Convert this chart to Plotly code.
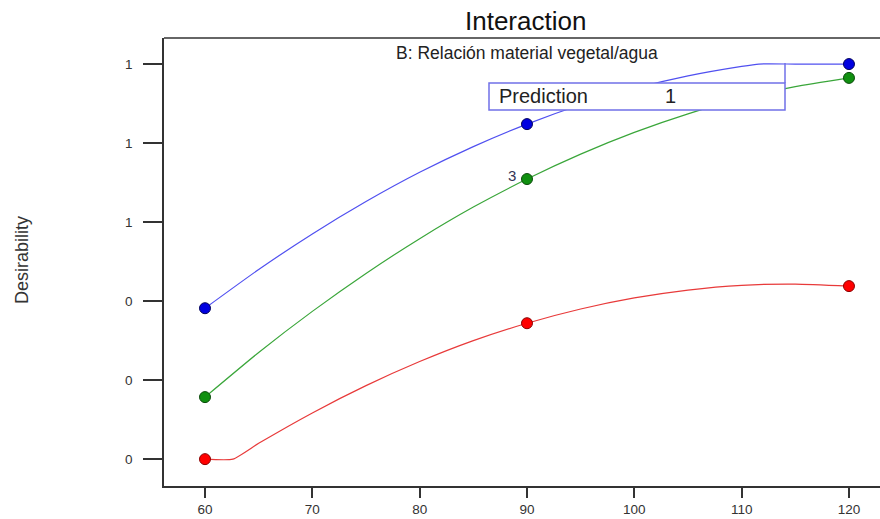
import plotly.graph_objects as go

# Factor levels (x) and predicted desirability curves
x_blue = [60, 65, 70, 75, 80, 85, 90, 95, 100, 105, 110, 111.6, 115, 120]
y_blue = [0.382, 0.480, 0.570, 0.652, 0.726, 0.791, 0.848, 0.897, 0.938, 0.970, 0.994, 1.0, 1.0, 1.0]

x_green = [60, 65, 70, 75, 80, 85, 90, 95, 100, 105, 110, 115, 120]
y_green = [0.157, 0.270, 0.374, 0.470, 0.558, 0.638, 0.709, 0.772, 0.827, 0.874, 0.913, 0.943, 0.965]

x_red = [60, 62.6, 65, 70, 75, 80, 85, 90, 95, 100, 105, 110, 115, 120]
y_red = [0.0, 0.0, 0.040, 0.117, 0.186, 0.247, 0.300, 0.344, 0.380, 0.408, 0.428, 0.440, 0.443, 0.438]

# Design points
x_pts = [60, 90, 120]
blue_pts = [0.382, 0.848, 1.0]
green_pts = [0.157, 0.709, 0.965]
red_pts = [0.0, 0.344, 0.438]

x_ticks = [60, 70, 80, 90, 100, 110, 120]
y_ticks = [0, 0.2, 0.4, 0.6, 0.8, 1.0]
y_ticktext = ["0", "0", "0", "1", "1", "1"]

FONT = "Liberation Sans, Arial, sans-serif"

series = [
    (x_red, y_red, red_pts, "#e83a3a", "#ff0000", "#8a0000"),
    (x_green, y_green, green_pts, "#3aa63a", "#109010", "#0a4a0a"),
    (x_blue, y_blue, blue_pts, "#5050f0", "#0000e0", "#00005a"),
]

fig = go.Figure()
for xs, ys, pts, lc, mc, oc in series:
    fig.add_trace(go.Scatter(x=xs, y=ys, mode="lines",
                             line=dict(color=lc, width=1.2, shape="spline", smoothing=0.5),
                             hoverinfo="skip", showlegend=False))
for xs, ys, pts, lc, mc, oc in series:
    fig.add_trace(go.Scatter(x=x_pts, y=pts, mode="markers",
                             marker=dict(color=mc, size=11, line=dict(color=oc, width=1)),
                             showlegend=False))

L, R, T, B = 164, 0, 38, 33
W, H = 880, 519
pw = W - L - R
ph = H - T - B


def px(xp):
    return (xp - L) / pw


def py(yp):
    return (H - B - yp) / ph


box_col = "#7070e8"
fig.add_shape(type="rect", xref="paper", yref="paper",
              x0=px(489), x1=px(785), y0=py(110), y1=py(83),
              line=dict(color=box_col, width=1.5), fillcolor="white", layer="above")
fig.add_shape(type="line", xref="paper", yref="paper",
              x0=px(785), x1=px(785), y0=py(83), y1=py(63),
              line=dict(color=box_col, width=1.5), layer="above")
# top frame line (plot extends past the right edge)
fig.add_shape(type="line", xref="paper", yref="paper",
              x0=0, x1=1, y0=1, y1=1, line=dict(color="#333333", width=1.5))


def label(xp, yp, text, size, color="#222222", xanchor="center", angle=0):
    fig.add_annotation(xref="paper", yref="paper", x=px(xp), y=py(yp), text=text,
                       showarrow=False, xanchor=xanchor, yanchor="middle",
                       textangle=angle, font=dict(family=FONT, size=size, color=color))


label(525, 21, "Interaction", 26, "#111111")
label(527, 53, "B: Relación material vegetal/agua", 17.5)
label(497, 96, "Prediction", 20, xanchor="left")
label(670, 96, "1", 20)
label(512, 175, "3", 15, "#333355")
label(22, 260, "Desirability", 18, "#333333", angle=-90)

fig.update_layout(
    width=W, height=H,
    margin=dict(l=L, r=R, t=T, b=B),
    paper_bgcolor="white", plot_bgcolor="white",
    font=dict(family=FONT, size=13, color="#333333"),
    xaxis=dict(range=[56.18, 122.89], tickvals=x_ticks, showgrid=False, zeroline=False,
               showline=True, linecolor="#333333", linewidth=1.5,
               ticks="outside", ticklen=10, tickwidth=1.5, tickcolor="#333333",
               tickfont=dict(size=13.5, color="#333333")),
    yaxis=dict(range=[-0.068, 1.066], tickvals=y_ticks, ticktext=y_ticktext,
               showgrid=False, zeroline=False,
               showline=True, linecolor="#333333", linewidth=1.5,
               ticks="outside", ticklen=19, tickwidth=1.5, tickcolor="#333333",
               ticklabelstandoff=8,
               tickfont=dict(size=13.5, color="#333333")),
)

fig.write_html("out.html", config={"displayModeBar": False},
               post_script="document.body.style.margin='0';document.body.style.overflow='hidden';")
